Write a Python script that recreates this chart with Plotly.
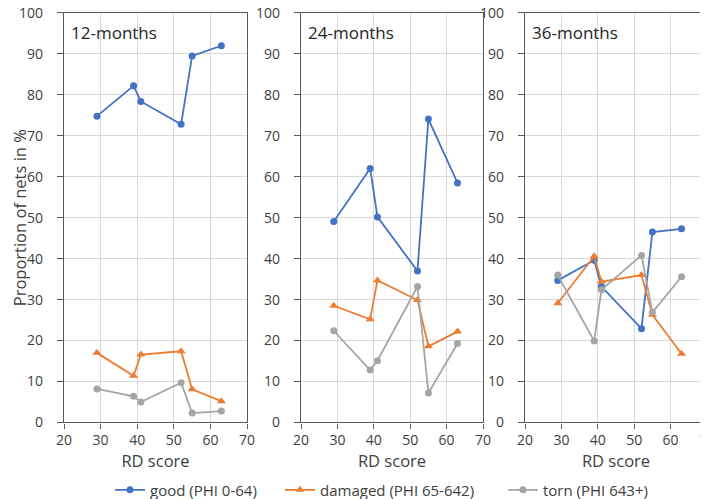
import plotly.graph_objects as go

rd_score = [29, 39, 41, 52, 55, 63]
panels = ["12-months", "24-months", "36-months"]

good_12 = [74.8, 82.2, 78.4, 72.8, 89.5, 92.0]
damaged_12 = [17.0, 11.4, 16.6, 17.4, 8.1, 5.2]
torn_12 = [8.2, 6.4, 5.0, 9.7, 2.3, 2.8]

good_24 = [49.1, 62.0, 50.2, 37.0, 74.1, 58.5]
damaged_24 = [28.5, 25.2, 34.7, 29.9, 18.6, 22.2]
torn_24 = [22.4, 12.8, 15.1, 33.2, 7.2, 19.3]

good_36 = [34.7, 39.6, 33.2, 22.9, 46.5, 47.3]
damaged_36 = [29.1, 40.6, 34.4, 36.0, 26.3, 16.8]
torn_36 = [36.0, 19.9, 32.4, 40.8, 26.9, 35.6]

series_names = ["good (PHI 0-64)", "damaged (PHI 65-642)", "torn (PHI 643+)"]
colors = ["#4472C4", "#ED7D31", "#A5A5A5"]
symbols = ["circle", "triangle-up", "circle"]

data = [
    [good_12, damaged_12, torn_12],
    [good_24, damaged_24, torn_24],
    [good_36, damaged_36, torn_36],
]

W, H = 708, 499
FONT = "Open Sans, Liberation Sans, sans-serif"
TXT = "#404040"

x_px = [(56, 239), (293, 475), (517, 699)]
y_dom = [(H - 417) / H, (H - 5) / H]
legend_text_px = [142, 312, 535]
legend_keys = ["legend", "legend2", "legend3"]

fig = go.Figure()
for p in range(3):
    xa = "x" if p == 0 else f"x{p+1}"
    ya = "y" if p == 0 else f"y{p+1}"
    for s in range(3):
        fig.add_trace(go.Scatter(
            x=rd_score, y=data[p][s], mode="lines+markers",
            name=series_names[s], legendgroup=series_names[s],
            showlegend=(p == 0), legend=legend_keys[s],
            line=dict(color=colors[s], width=1.8),
            marker=dict(symbol=symbols[s], size=7 if symbols[s] == "circle" else 8,
                        color=colors[s]),
            xaxis=xa, yaxis=ya,
        ))

layout = dict(
    width=W, height=H,
    margin=dict(l=0, r=0, t=0, b=0),
    paper_bgcolor="white", plot_bgcolor="white",
    font=dict(family=FONT, color=TXT, size=13),
    showlegend=True,
)
for s in range(3):
    layout[legend_keys[s]] = dict(
        orientation="h", x=(legend_text_px[s] - 40) / W, xanchor="left",
        y=(H - 485) / H, yanchor="middle",
        font=dict(size=15, color=TXT, family=FONT),
        itemwidth=30, bgcolor="rgba(0,0,0,0)",
    )

for p in range(3):
    sx = "" if p == 0 else str(p + 1)
    x0, x1 = x_px[p]
    layout[f"xaxis{sx}"] = dict(
        domain=[x0 / W, x1 / W], range=[20, 70], dtick=10, tick0=20,
        anchor=f"y{sx}", automargin=False,
        showgrid=True, gridcolor="#D9D9D9", gridwidth=1,
        showline=True, linecolor="#595959", linewidth=1.3, mirror=True,
        ticks="outside", ticklen=5, tickcolor="#595959",
        tickfont=dict(size=14, color=TXT), ticklabeloverflow="allow",
        title=dict(text="RD score", font=dict(size=16.5, color=TXT), standoff=6),
        zeroline=False, fixedrange=True,
    )
    layout[f"yaxis{sx}"] = dict(
        domain=y_dom, range=[0, 100], dtick=10, tick0=0,
        anchor=f"x{sx}", automargin=False,
        showgrid=True, gridcolor="#D9D9D9", gridwidth=1,
        showline=True, linecolor="#595959", linewidth=1.3, mirror=True,
        ticks="outside", ticklen=6, tickcolor="#595959",
        tickfont=dict(size=14, color=TXT), ticklabeloverflow="allow",
        ticklabelstandoff=11,
        zeroline=False, fixedrange=True,
    )
    if p == 0:
        layout["yaxis"]["title"] = dict(text="Proportion of nets in %",
                                        font=dict(size=16.5, color=TXT), standoff=14)

fig.update_layout(**layout)

for p in range(3):
    sx = "" if p == 0 else str(p + 1)
    fig.add_annotation(
        text=panels[p], xref=f"x{sx} domain", yref=f"y{sx} domain",
        x=0.03, y=0.985, xanchor="left", yanchor="top", showarrow=False,
        font=dict(size=17, color="#262626", family=FONT),
    )

fig.write_html("out.html")
